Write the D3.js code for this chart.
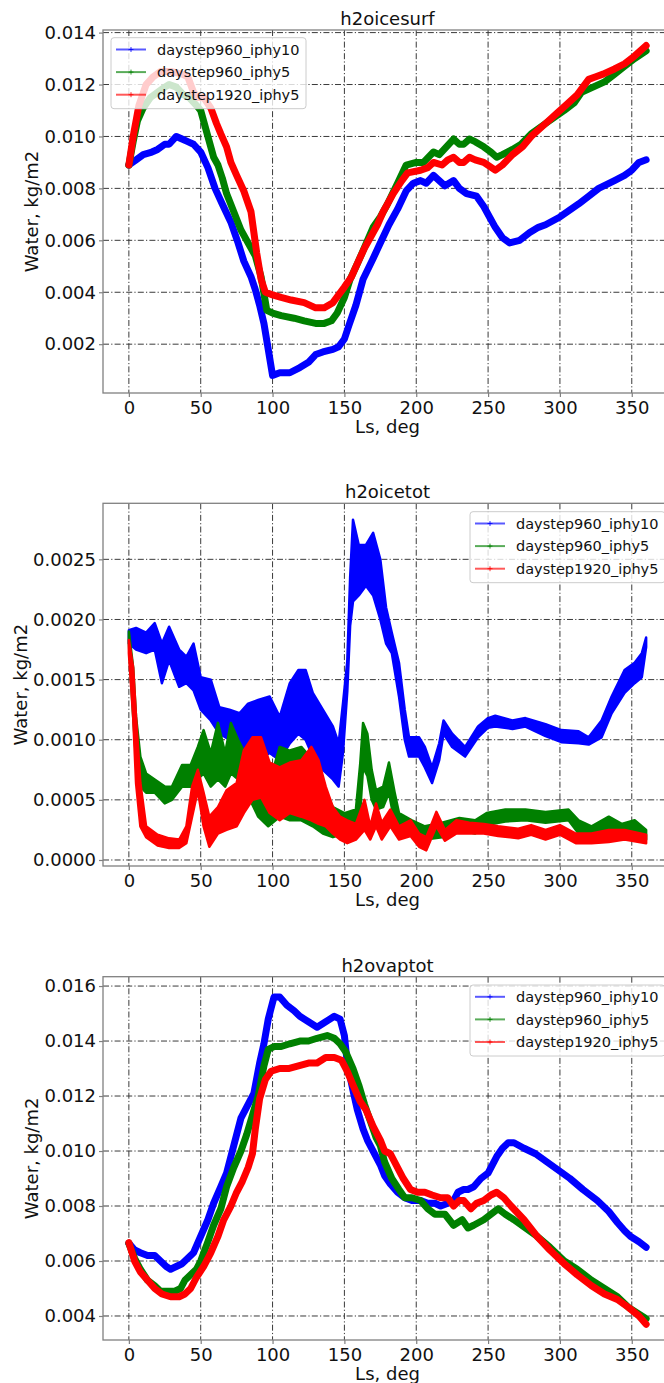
<!DOCTYPE html>
<html>
<head>
<meta charset="utf-8">
<script src="https://cdn.jsdelivr.net/npm/d3@7"></script>
<style>
  body { margin: 0; background: #fff; }
  svg { display: block; font-family: 'DejaVu Sans', sans-serif; }
</style>
</head>
<body>
<div id="container"></div>
<script>
// Legend / series
const seriesNames = ['daystep960_iphy10', 'daystep960_iphy5', 'daystep1920_iphy5'];
const seriesColors = ['#0000ff', '#008000', '#ff0000'];

// x ticks (Ls, deg)
const lsTicks = [0, 50, 100, 150, 200, 250, 300, 350];

// y ticks per panel
const surfTicks = [0.002, 0.004, 0.006, 0.008, 0.010, 0.012, 0.014];
const totTicks = [0.0000, 0.0005, 0.0010, 0.0015, 0.0020, 0.0025];
const vapTicks = [0.004, 0.006, 0.008, 0.010, 0.012, 0.014, 0.016];

// h2oicesurf : [Ls, value]
const surfIphy10 = [[0,0.0089],[5,0.0091],[10,0.0093],[16,0.0094],[20,0.0095],[25,0.0097],[28,0.0097],[33,0.0100],[37,0.0099],[41,0.0098],[45,0.0097],[50,0.0094],[55,0.0088],[60,0.0080],[65,0.0074],[71,0.0067],[76,0.0059],[80,0.0052],[85,0.0046],[88,0.0041],[91,0.0035],[94,0.0028],[97,0.0018],[100,0.0008],[105,0.0009],[112,0.0009],[119,0.0011],[125,0.0013],[130,0.0016],[135,0.0017],[142,0.0018],[146,0.0019],[150,0.0022],[153,0.0027],[158,0.0035],[163,0.0045],[170,0.0053],[175,0.0059],[181,0.0066],[187,0.0072],[193,0.0079],[198,0.0082],[203,0.0083],[207,0.0082],[212,0.0085],[216,0.0083],[220,0.0081],[226,0.0083],[230,0.0080],[235,0.0078],[242,0.0077],[247,0.0073],[251,0.0069],[255,0.0065],[260,0.0061],[265,0.0059],[272,0.0060],[279,0.0063],[285,0.0065],[290,0.0066],[300,0.0069],[313,0.0074],[320,0.0077],[327,0.0080],[338,0.0083],[345,0.0085],[350,0.0087],[355,0.0090],[360,0.0091]];
const surfIphy5 = [[0,0.0089],[3,0.0098],[6,0.0106],[10,0.0111],[15,0.0115],[20,0.0117],[25,0.0119],[28,0.0120],[33,0.0119],[38,0.0116],[42,0.0115],[47,0.0112],[50,0.0110],[55,0.0100],[59,0.0092],[62,0.0089],[65,0.0084],[68,0.0078],[73,0.0071],[78,0.0064],[85,0.0057],[88,0.0054],[92,0.0046],[96,0.0033],[100,0.0032],[106,0.0031],[115,0.0030],[122,0.0029],[130,0.0028],[136,0.0028],[141,0.0029],[145,0.0032],[150,0.0038],[154,0.0045],[159,0.0051],[163,0.0056],[170,0.0065],[175,0.0069],[180,0.0074],[187,0.0082],[193,0.0089],[200,0.0090],[205,0.0090],[212,0.0094],[216,0.0093],[221,0.0096],[226,0.0099],[230,0.0097],[233,0.0097],[237,0.0099],[241,0.0098],[247,0.0096],[252,0.0094],[256,0.0092],[260,0.0093],[267,0.0095],[273,0.0097],[280,0.0101],[290,0.0105],[303,0.0110],[310,0.0113],[315,0.0117],[323,0.0119],[331,0.0121],[338,0.0124],[345,0.0127],[352,0.0130],[360,0.0133]];
const surfDs1920 = [[0,0.0089],[3,0.0100],[7,0.0112],[12,0.0120],[17,0.0123],[22,0.0125],[30,0.0125],[37,0.0124],[41,0.0123],[45,0.0117],[48,0.0115],[52,0.0115],[57,0.0111],[61,0.0105],[64,0.0101],[68,0.0096],[71,0.0090],[75,0.0085],[80,0.0079],[85,0.0071],[89,0.0055],[92,0.0045],[95,0.0040],[100,0.0039],[106,0.0038],[113,0.0037],[122,0.0036],[130,0.0034],[136,0.0034],[142,0.0036],[146,0.0039],[150,0.0042],[155,0.0046],[159,0.0051],[164,0.0057],[168,0.0061],[173,0.0066],[177,0.0071],[184,0.0078],[190,0.0083],[194,0.0086],[203,0.0087],[208,0.0088],[212,0.0090],[218,0.0089],[222,0.0091],[226,0.0092],[230,0.0090],[233,0.0090],[237,0.0092],[241,0.0091],[247,0.0090],[255,0.0087],[260,0.0089],[267,0.0093],[274,0.0096],[280,0.0100],[290,0.0105],[298,0.0109],[304,0.0112],[312,0.0116],[320,0.0122],[325,0.0123],[330,0.0124],[338,0.0126],[345,0.0128],[352,0.0131],[360,0.0135]];

// h2oicetot : [Ls, low, high] (noisy band)
const totIphy10 = [[0,0.00180,0.00191],[5,0.00175,0.00193],[12,0.00172,0.00189],[18,0.00175,0.00197],[23,0.00147,0.00180],[28,0.00166,0.00194],[35,0.00144,0.00175],[40,0.00147,0.00169],[45,0.00141,0.00180],[50,0.00125,0.00152],[57,0.00116,0.00150],[63,0.00105,0.00127],[70,0.00100,0.00125],[77,0.00091,0.00122],[83,0.00091,0.00130],[90,0.00083,0.00133],[98,0.00089,0.00136],[105,0.00083,0.00119],[112,0.00097,0.00147],[118,0.00105,0.00158],[123,0.00100,0.00158],[128,0.00086,0.00139],[135,0.00075,0.00125],[142,0.00067,0.00111],[146,0.00061,0.00097],[149,0.00089,0.00130],[152,0.00140,0.00165],[154,0.00195,0.00235],[156,0.00215,0.00283],[160,0.00220,0.00262],[165,0.00228,0.00262],[170,0.00220,0.00272],[175,0.00200,0.00250],[179,0.00180,0.00210],[183,0.00172,0.00189],[188,0.00136,0.00164],[192,0.00100,0.00125],[195,0.00086,0.00102],[202,0.00086,0.00102],[206,0.00077,0.00094],[211,0.00064,0.00077],[216,0.00083,0.00097],[219,0.00105,0.00116],[225,0.00094,0.00105],[234,0.00086,0.00094],[243,0.00102,0.00111],[250,0.00110,0.00118],[255,0.00111,0.00120],[267,0.00109,0.00116],[276,0.00111,0.00118],[290,0.00103,0.00113],[301,0.00098,0.00108],[313,0.00097,0.00107],[320,0.00096,0.00102],[329,0.00102,0.00116],[336,0.00122,0.00136],[345,0.00139,0.00158],[352,0.00147,0.00164],[357,0.00152,0.00172],[360,0.00177,0.00185]];
const totIphy5 = [[0,0.00180,0.00190],[3,0.00119,0.00160],[5,0.00083,0.00119],[8,0.00061,0.00086],[12,0.00056,0.00072],[18,0.00056,0.00067],[25,0.00047,0.00061],[30,0.00050,0.00061],[37,0.00061,0.00079],[43,0.00061,0.00079],[48,0.00067,0.00094],[52,0.00072,0.00108],[57,0.00061,0.00089],[62,0.00067,0.00114],[67,0.00061,0.00089],[71,0.00072,0.00114],[76,0.00067,0.00100],[82,0.00056,0.00086],[90,0.00036,0.00072],[97,0.00028,0.00061],[105,0.00036,0.00094],[112,0.00033,0.00091],[120,0.00033,0.00094],[128,0.00028,0.00083],[135,0.00022,0.00061],[142,0.00019,0.00044],[150,0.00022,0.00039],[158,0.00025,0.00042],[161,0.00040,0.00080],[163,0.00077,0.00114],[166,0.00070,0.00105],[169,0.00050,0.00075],[172,0.00042,0.00058],[177,0.00044,0.00061],[181,0.00056,0.00081],[185,0.00031,0.00056],[188,0.00025,0.00039],[197,0.00022,0.00033],[206,0.00017,0.00028],[218,0.00019,0.00031],[230,0.00025,0.00035],[241,0.00022,0.00033],[249,0.00029,0.00039],[262,0.00032,0.00042],[276,0.00033,0.00042],[290,0.00031,0.00040],[306,0.00033,0.00042],[313,0.00022,0.00033],[322,0.00020,0.00028],[334,0.00025,0.00036],[343,0.00021,0.00030],[352,0.00022,0.00033],[360,0.00017,0.00025]];
const totDs1920 = [[0,0.00172,0.00183],[3,0.00119,0.00160],[5,0.00064,0.00119],[8,0.00028,0.00064],[12,0.00019,0.00028],[20,0.00012,0.00021],[28,0.00010,0.00018],[35,0.00010,0.00017],[40,0.00014,0.00028],[44,0.00036,0.00061],[48,0.00058,0.00075],[52,0.00028,0.00056],[56,0.00011,0.00036],[62,0.00022,0.00044],[68,0.00025,0.00058],[75,0.00028,0.00064],[80,0.00039,0.00091],[86,0.00050,0.00102],[92,0.00052,0.00102],[98,0.00039,0.00081],[105,0.00033,0.00077],[112,0.00039,0.00081],[120,0.00036,0.00083],[127,0.00033,0.00094],[132,0.00030,0.00083],[137,0.00028,0.00061],[142,0.00022,0.00044],[147,0.00017,0.00036],[152,0.00014,0.00033],[158,0.00017,0.00030],[164,0.00025,0.00050],[168,0.00017,0.00028],[172,0.00028,0.00047],[176,0.00017,0.00031],[182,0.00028,0.00042],[188,0.00017,0.00028],[196,0.00020,0.00033],[202,0.00011,0.00022],[207,0.00008,0.00019],[214,0.00028,0.00040],[220,0.00016,0.00025],[228,0.00022,0.00033],[237,0.00022,0.00031],[247,0.00022,0.00030],[257,0.00020,0.00028],[271,0.00018,0.00026],[280,0.00021,0.00029],[290,0.00017,0.00025],[300,0.00021,0.00029],[311,0.00014,0.00022],[322,0.00014,0.00022],[334,0.00015,0.00025],[345,0.00017,0.00025],[360,0.00014,0.00021]];

// h2ovaptot : [Ls, value]
const vapIphy10 = [[0,0.00664],[4,0.0064],[8,0.0063],[13,0.0062],[18,0.0062],[22,0.0060],[26,0.0058],[29,0.0057],[33,0.0058],[37,0.0059],[41,0.0061],[45,0.0063],[50,0.0069],[55,0.0075],[59,0.0081],[64,0.0087],[68,0.0092],[71,0.0098],[75,0.0106],[78,0.0112],[82,0.0116],[87,0.0121],[91,0.0132],[94,0.0139],[97,0.0148],[101,0.0156],[105,0.0156],[110,0.0153],[115,0.0151],[119,0.0149],[125,0.0147],[131,0.0145],[137,0.0147],[143,0.0149],[147,0.0148],[150,0.0142],[152,0.0132],[156,0.0122],[159,0.0115],[163,0.0108],[166,0.0104],[170,0.0100],[175,0.0095],[178,0.0091],[182,0.0088],[187,0.0085],[192,0.0083],[197,0.0082],[203,0.0082],[208,0.0081],[213,0.0081],[217,0.0080],[222,0.0081],[226,0.0082],[229,0.0085],[233,0.0086],[236,0.0086],[240,0.0087],[245,0.0090],[250,0.0092],[256,0.0098],[260,0.0101],[264,0.0103],[268,0.0103],[275,0.0101],[283,0.0099],[291,0.0096],[299,0.0093],[307,0.0090],[316,0.0086],[326,0.0082],[334,0.0078],[340,0.0074],[345,0.0071],[349,0.0069],[355,0.0067],[360,0.0065]];
const vapIphy5 = [[0,0.00664],[4,0.0061],[8,0.0057],[13,0.0053],[18,0.0051],[22,0.0049],[27,0.0049],[32,0.0049],[36,0.0050],[39,0.0053],[43,0.0055],[47,0.0057],[50,0.0060],[55,0.0067],[59,0.0073],[64,0.0079],[68,0.0087],[73,0.0094],[78,0.0100],[82,0.0106],[86,0.0113],[90,0.0120],[94,0.0131],[97,0.0137],[101,0.0138],[106,0.0138],[112,0.0139],[119,0.0140],[125,0.0140],[131,0.0141],[138,0.0142],[143,0.0141],[147,0.0139],[151,0.0136],[156,0.0130],[160,0.0124],[164,0.0117],[168,0.0111],[172,0.0105],[175,0.0102],[178,0.0096],[183,0.0090],[188,0.0086],[192,0.0083],[197,0.0083],[203,0.0082],[208,0.0079],[213,0.0077],[220,0.0077],[226,0.0073],[232,0.0075],[236,0.0072],[240,0.0073],[247,0.0075],[252,0.0077],[257,0.0079],[262,0.0077],[268,0.0075],[276,0.0072],[284,0.0069],[293,0.0065],[303,0.0060],[312,0.0057],[322,0.0053],[331,0.0050],[340,0.0047],[348,0.0043],[354,0.0041],[360,0.0039]];
const vapDs1920 = [[0,0.00667],[4,0.0060],[8,0.0056],[13,0.0053],[18,0.0050],[23,0.0048],[29,0.0047],[35,0.0047],[39,0.0048],[43,0.0050],[47,0.0054],[52,0.0058],[57,0.0063],[62,0.0069],[66,0.0075],[71,0.0080],[75,0.0085],[79,0.0089],[83,0.0094],[86,0.0099],[88,0.0108],[91,0.0119],[95,0.0126],[99,0.0129],[105,0.0130],[111,0.0130],[118,0.0131],[125,0.0132],[131,0.0132],[137,0.0134],[143,0.0134],[148,0.0133],[152,0.0129],[156,0.0124],[161,0.0118],[165,0.0115],[170,0.0109],[175,0.0104],[178,0.0100],[182,0.0099],[187,0.0094],[191,0.0090],[196,0.0086],[201,0.0085],[206,0.0085],[211,0.0084],[217,0.0083],[222,0.0083],[226,0.0080],[230,0.0082],[233,0.0082],[238,0.0079],[242,0.0081],[247,0.0082],[252,0.0084],[256,0.0085],[261,0.0083],[266,0.0080],[275,0.0075],[284,0.0069],[293,0.0064],[303,0.0059],[312,0.0055],[322,0.0051],[331,0.0048],[340,0.0046],[348,0.0043],[355,0.0040],[360,0.0037]];

const svgWidth = 664;
const svgHeight = 1383;
const axLeft = 103;
const axRight = 672;

const panels = [
  { title: 'h2oicesurf', top: 30, bottom: 393, yDomain: [0.00012, 0.0141], ticks: surfTicks, fmt: '.3f',
    kind: 'line', series: [surfIphy10, surfIphy5, surfDs1920], labelX: 38,
    legend: { x: 111, y: 37.7 } },
  { title: 'h2oicetot', top: 503.3, bottom: 866, yDomain: [-0.00005, 0.002966], ticks: totTicks, fmt: '.4f',
    kind: 'band', series: [totIphy10, totIphy5, totDs1920], labelX: 27,
    legend: { x: 470, y: 511.7 } },
  { title: 'h2ovaptot', top: 976.7, bottom: 1340, yDomain: [0.003127, 0.01634], ticks: vapTicks, fmt: '.3f',
    kind: 'line', series: [vapIphy10, vapIphy5, vapDs1920], labelX: 38,
    legend: { x: 470, y: 985 } }
];

const svg = d3
  .select('#container')
  .append('svg')
  .attr('width', svgWidth)
  .attr('height', svgHeight);

const xScale = d3.scaleLinear().domain([-18, 378]).range([axLeft, axRight]);

const drawPanel = p => {
  const g = svg.append('g');
  const yScale = d3.scaleLinear().domain(p.yDomain).range([p.bottom, p.top]);
  const clipId = `clip-${p.title}`;

  g.append('clipPath')
    .attr('id', clipId)
    .append('rect')
    .attr('x', axLeft)
    .attr('y', p.top)
    .attr('width', axRight - axLeft)
    .attr('height', p.bottom - p.top);

  // GRID
  const grid = g.append('g').attr('class', 'grid');
  grid.selectAll('.vgrid')
    .data(lsTicks)
    .enter()
    .append('line')
    .attr('x1', d => xScale(d))
    .attr('x2', d => xScale(d))
    .attr('y1', p.top)
    .attr('y2', p.bottom);
  grid.selectAll('.hgrid')
    .data(p.ticks)
    .enter()
    .append('line')
    .attr('x1', axLeft)
    .attr('x2', axRight)
    .attr('y1', d => yScale(d))
    .attr('y2', d => yScale(d));
  grid.selectAll('line')
    .attr('stroke', '#3a3a3a')
    .attr('stroke-width', 1)
    .attr('stroke-dasharray', '6,2.2,1.2,2.2');

  // DATA
  const plot = g.append('g').attr('clip-path', `url(#${clipId})`);
  p.series.forEach((s, i) => {
    if (p.kind === 'line') {
      const line = d3.line().x(d => xScale(d[0])).y(d => yScale(d[1]));
      plot.append('path')
        .datum(s)
        .attr('d', line)
        .attr('fill', 'none')
        .attr('stroke', seriesColors[i])
        .attr('stroke-width', 7)
        .attr('stroke-linejoin', 'round')
        .attr('stroke-linecap', 'round');
    } else {
      const area = d3.area().x(d => xScale(d[0])).y0(d => yScale(d[1])).y1(d => yScale(d[2]));
      plot.append('path')
        .datum(s)
        .attr('d', area)
        .attr('fill', seriesColors[i])
        .attr('stroke', seriesColors[i])
        .attr('stroke-width', 2.5)
        .attr('stroke-linejoin', 'round');
    }
  });

  // AXES
  const xAxis = d3.axisBottom(xScale).tickValues(lsTicks).tickSize(4).tickPadding(4).tickFormat(d3.format('d'));
  const yAxis = d3.axisLeft(yScale).tickValues(p.ticks).tickSize(4).tickPadding(3).tickFormat(d3.format(p.fmt));

  const gx = g.append('g').attr('transform', `translate(0, ${p.bottom})`).call(xAxis);
  const gy = g.append('g').attr('transform', `translate(${axLeft}, 0)`).call(yAxis);
  [gx, gy].forEach(a => {
    a.select('.domain').remove();
    a.selectAll('line').attr('stroke', '#808080').attr('stroke-width', 1.2);
    a.selectAll('text').attr('fill', '#111').style('font-size', '18px').style('font-family', 'DejaVu Sans');
  });

  // FRAME
  g.append('rect')
    .attr('x', axLeft)
    .attr('y', p.top)
    .attr('width', axRight - axLeft)
    .attr('height', p.bottom - p.top)
    .attr('fill', 'none')
    .attr('stroke', '#808080')
    .attr('stroke-width', 1.3);

  // TITLE & LABELS
  g.append('text')
    .attr('x', (axLeft + axRight) / 2)
    .attr('y', p.top - 5)
    .attr('text-anchor', 'middle')
    .style('font-size', '18px')
    .attr('fill', '#111')
    .text(p.title);

  g.append('text')
    .attr('x', (axLeft + axRight) / 2)
    .attr('y', p.bottom + 40)
    .attr('text-anchor', 'middle')
    .style('font-size', '18px')
    .attr('fill', '#111')
    .text('Ls, deg');

  g.append('text')
    .attr('transform', `translate(${p.labelX}, ${(p.top + p.bottom) / 2}) rotate(-90)`)
    .attr('text-anchor', 'middle')
    .style('font-size', '18px')
    .attr('fill', '#111')
    .text('Water, kg/m2');

  // LEGEND
  const lg = g.append('g').attr('transform', `translate(${p.legend.x}, ${p.legend.y})`);
  lg.append('rect')
    .attr('width', 195)
    .attr('height', 71)
    .attr('rx', 3)
    .attr('fill', '#fff')
    .attr('fill-opacity', 0.8)
    .attr('stroke', '#cccccc')
    .attr('stroke-width', 1);
  seriesNames.forEach((name, i) => {
    const cy = 11.8 + i * 22.6;
    lg.append('line')
      .attr('x1', 5).attr('x2', 35)
      .attr('y1', cy).attr('y2', cy)
      .attr('stroke', seriesColors[i])
      .attr('stroke-opacity', 0.65)
      .attr('stroke-width', 2);
    lg.append('path')
      .attr('d', `M${20 - 2.5},${cy}h5M20,${cy - 2.5}v5`)
      .attr('stroke', seriesColors[i])
      .attr('stroke-opacity', 0.8)
      .attr('stroke-width', 1);
    lg.append('text')
      .attr('x', 46)
      .attr('y', cy + 5.3)
      .style('font-size', '14.5px')
      .attr('fill', '#111')
      .text(name);
  });
};

panels.forEach(drawPanel);
</script>
</body>
</html>
